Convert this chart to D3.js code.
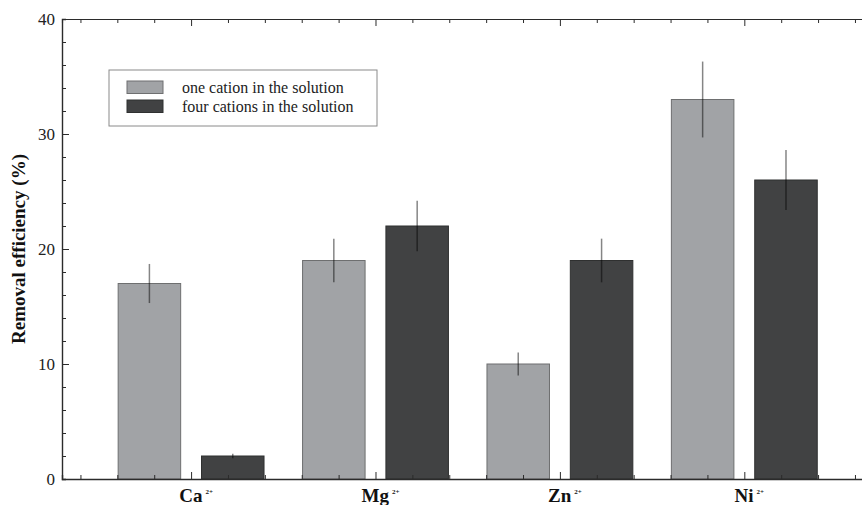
<!DOCTYPE html>
<html>
<head>
<meta charset="utf-8">
<script src="https://cdn.jsdelivr.net/npm/d3@7"></script>
<style>
  html, body { margin: 0; padding: 0; background: #fff; }
  svg text { font-family: "Liberation Serif", "Times New Roman", Times, "DejaVu Serif", serif; }
</style>
</head>
<body>
<svg id="chart" width="862" height="505"></svg>
<script>
// values
const cations = ["Ca", "Mg", "Zn", "Ni"];
const chargeLabel = "2+";
const oneCation = [17, 19, 10, 33];
const oneCationErr = [1.7, 1.9, 1.0, 3.3];
const fourCations = [2, 22, 19, 26];
const fourCationsErr = [0.2, 2.2, 1.9, 2.6];
const seriesNames = ["one cation in the solution", "four cations in the solution"];
const yTickValues = [0, 10, 20, 30, 40];

const svg = d3.select("#chart");

// group i sits at x = i + 1
const x = d3.scaleLinear().domain([0.3, 4.7]).range([62, 873.4]);
const y = d3.scaleLinear().domain([0, 40]).range([479, 19]);

const colors = ["#a1a3a6", "#414243"];
const strokes = ["#6e6f70", "#2f3030"];
const barW = 0.339;
const offsets = [-0.226, 0.226];

const series = [
  { vals: oneCation, errs: oneCationErr },
  { vals: fourCations, errs: fourCationsErr }
];

// bars
series.forEach((s, si) => {
  svg.append("g").selectAll("rect")
    .data(s.vals)
    .join("rect")
    .attr("x", (d, i) => x(i + 1 + offsets[si] - barW / 2))
    .attr("width", x(barW) - x(0))
    .attr("y", d => y(d))
    .attr("height", d => y(0) - y(d))
    .attr("fill", colors[si])
    .attr("stroke", strokes[si])
    .attr("stroke-width", 1);
});

// error bars (semi transparent so they darken inside the bar)
series.forEach((s, si) => {
  svg.append("g").selectAll("line")
    .data(s.vals)
    .join("line")
    .attr("x1", (d, i) => x(i + 1 + offsets[si]))
    .attr("x2", (d, i) => x(i + 1 + offsets[si]))
    .attr("y1", (d, i) => y(d + s.errs[i]))
    .attr("y2", (d, i) => y(d - s.errs[i]))
    .attr("stroke", "rgba(0,0,0,0.48)")
    .attr("stroke-width", 1.5);
});

// axes
const xMinor = d3.range(0.4, 4.61, 0.2).map(v => +v.toFixed(1)).filter(v => Math.abs(v - Math.round(v)) > 0.01);
const xMajor = [1, 2, 3, 4];
const yMinor = d3.range(2, 40, 2).filter(v => v % 10 !== 0);

function styleAxis(g) {
  g.attr("font-family", null);
  g.select(".domain").attr("stroke", "#2b2b2b").attr("stroke-width", 1.4);
  g.selectAll(".tick line").attr("stroke", "#2b2b2b").attr("stroke-width", 1);
}

// bottom
svg.append("g").attr("transform", "translate(0," + y(0) + ")")
  .call(d3.axisBottom(x).tickValues(xMinor).tickSize(-4).tickFormat(""))
  .call(styleAxis);
svg.append("g").attr("transform", "translate(0," + y(0) + ")")
  .call(d3.axisBottom(x).tickValues(xMajor).tickSize(-7).tickFormat(""))
  .call(g => g.select(".domain").remove())
  .call(styleAxis);

// top
svg.append("g").attr("transform", "translate(0," + y(40) + ")")
  .call(d3.axisTop(x).tickValues(xMinor).tickSize(-4).tickFormat(""))
  .call(styleAxis)
  .call(g => g.select(".domain").attr("stroke-width", 1.1));
svg.append("g").attr("transform", "translate(0," + y(40) + ")")
  .call(d3.axisTop(x).tickValues(xMajor).tickSize(-7).tickFormat(""))
  .call(g => g.select(".domain").remove())
  .call(styleAxis);

// left
svg.append("g").attr("transform", "translate(" + x(0.3) + ",0)")
  .call(d3.axisLeft(y).tickValues(yMinor).tickSize(-4).tickFormat(""))
  .call(styleAxis);
svg.append("g").attr("transform", "translate(" + x(0.3) + ",0)")
  .call(d3.axisLeft(y).tickValues(yTickValues).tickSize(-7).tickPadding(7))
  .call(g => g.select(".domain").remove())
  .call(styleAxis)
  .call(g => g.selectAll("text")
    .attr("font-size", 17)
    .attr("fill", "#222"));

// category labels with superscript charge
const catText = svg.append("g").selectAll("text")
  .data(cations)
  .join("text")
  .attr("x", (d, i) => x(i + 1) + 5)
  .attr("y", 502)
  .attr("text-anchor", "middle")
  .attr("font-size", 19)
  .attr("font-weight", "bold")
  .attr("fill", "#111");
catText.append("tspan").text(d => d);
catText.append("tspan")
  .attr("dx", 3)
  .attr("dy", -8)
  .attr("font-size", 7)
  .text(chargeLabel);

// y label
svg.append("text")
  .attr("transform", "translate(25," + y(20) + ") rotate(-90)")
  .attr("text-anchor", "middle")
  .attr("font-size", 19)
  .attr("font-weight", "bold")
  .attr("fill", "#111")
  .text("Removal efficiency (%)");

// legend
const legend = svg.append("g");
legend.append("rect")
  .attr("x", 109).attr("y", 70)
  .attr("width", 268).attr("height", 56)
  .attr("fill", "#fff")
  .attr("stroke", "#8a8a8a")
  .attr("stroke-width", 1);
seriesNames.forEach((name, i) => {
  legend.append("rect")
    .attr("x", 127).attr("y", 81 + i * 19)
    .attr("width", 36).attr("height", 12.5)
    .attr("fill", colors[i])
    .attr("stroke", strokes[i])
    .attr("stroke-width", 1);
  legend.append("text")
    .attr("x", 182).attr("y", 92.5 + i * 19)
    .attr("font-size", 16)
    .attr("fill", "#222")
    .text(name);
});
</script>
</body>
</html>
